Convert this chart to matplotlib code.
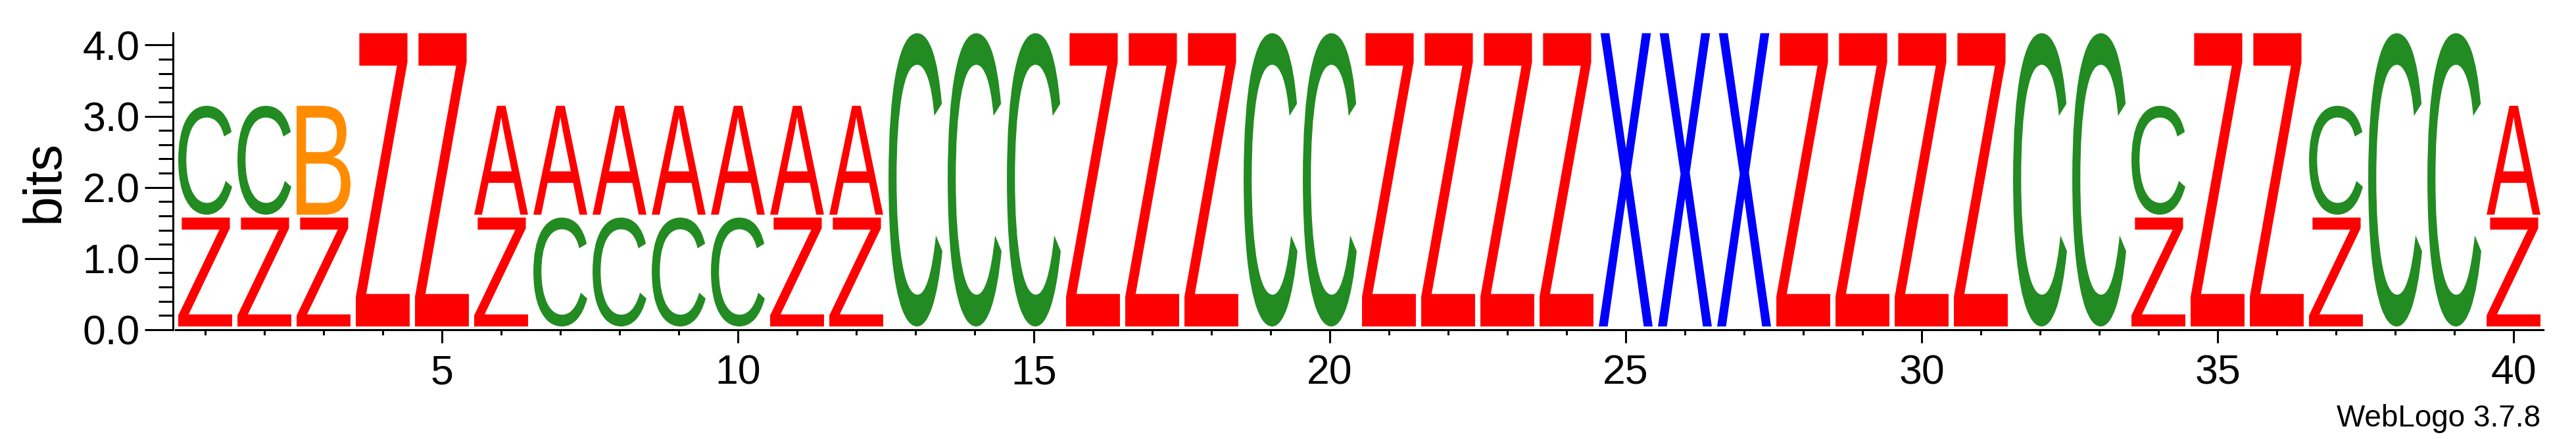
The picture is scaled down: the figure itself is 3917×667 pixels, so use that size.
## Sequence logo (WebLogo style) redrawn with matplotlib
import matplotlib
matplotlib.use('Agg')
import matplotlib.pyplot as plt
import numpy as np
from matplotlib.textpath import TextPath
from matplotlib.patches import PathPatch
from matplotlib.font_manager import FontProperties
from matplotlib.transforms import Affine2D
from matplotlib.ticker import MultipleLocator, FormatStrFormatter

#------------------------
# data read off the logo
#------------------------
positions = list(range(1, 41))
# bottom letter of each stack, '-' = nothing
bottom_res = list("ZZZZZZCCCCZZ" + "CCCZZZCCZZZZ" + "XXXZZZZCCZZZ" + "ZCCZ")
top_res = list("CCB--AAAAAAA" + "------------" + "---------C--" + "C--A")
# height in bits of each letter
bottom_bits = [4.12 if t == '-' else 1.53 for t in top_res]
top_bits = [0.0 if t == '-' else 1.53 for t in top_res]

colors = {'Z': '#ff0000', 'A': '#ff0000', 'C': '#228b22',
          'B': '#ff8c00', 'X': '#0000ff'}

plt.rcParams['font.family'] = ['Liberation Sans', 'DejaVu Sans']
fp = FontProperties(family='Liberation Sans')

fig = plt.figure(figsize=(39.17, 6.67), dpi=100)
W, H = 3917, 667
ax = fig.add_axes([267 / W, 166 / H, 3600 / W, 451 / H])

base = 0.046   # small lift above the axis line
gap = 0.04     # space between stacked letters
lw = 0.91      # letter width (in positions)


def draw_letter(ch, x, y0, h):
    tp = TextPath((0, 0), ch, size=1, prop=fp)
    bb = tp.get_extents()
    t = Affine2D().translate(-bb.x0, -bb.y0) \
        .scale(lw / bb.width, h / bb.height) \
        .translate(x - lw / 2, y0)
    p = t.transform_path(tp)
    ax.add_patch(PathPatch(p, facecolor=colors[ch], edgecolor='none', lw=0))


for i in range(len(positions)):
    x = positions[i]
    y = base
    draw_letter(bottom_res[i], x, y, bottom_bits[i])
    y += bottom_bits[i] + gap
    if top_res[i] != '-':
        draw_letter(top_res[i], x, y, top_bits[i])

ax.set_xlim(0.5, 40.5)
ax.set_ylim(0, 4.17)

ax.spines['top'].set_visible(False)
ax.spines['right'].set_visible(False)
ax.spines['left'].set_linewidth(2.2)
ax.spines['bottom'].set_linewidth(2.2)
ax.spines['left'].set_position(('outward', 3))

ax.yaxis.set_major_locator(MultipleLocator(1.0))
ax.yaxis.set_minor_locator(MultipleLocator(0.2))
ax.yaxis.set_major_formatter(FormatStrFormatter('%.1f'))
ax.xaxis.set_major_locator(MultipleLocator(5))
ax.xaxis.set_minor_locator(MultipleLocator(1))

ax.tick_params(axis='y', which='major', length=31, width=2.2, labelsize=45, pad=5)
ax.tick_params(axis='y', which='minor', length=16, width=2.2)
ax.tick_params(axis='x', which='major', length=14.5, width=2.2, labelsize=45, pad=12)
ax.tick_params(axis='x', which='minor', length=6, width=2.2)

ax.set_ylabel('bits', fontsize=58, labelpad=14)

fig.text(3863 / W, 19 / H, 'WebLogo 3.7.8', ha='right', va='baseline', fontsize=33)

fig.savefig('out.png', dpi=100)
